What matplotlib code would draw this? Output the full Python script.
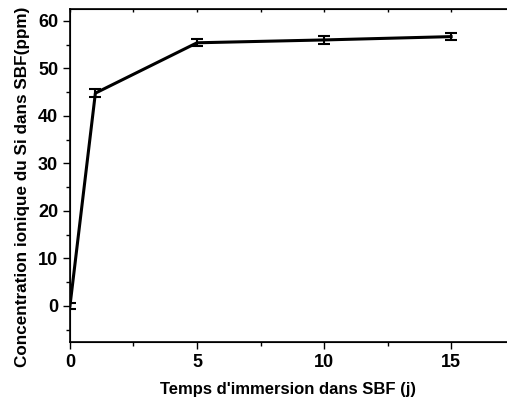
import matplotlib
matplotlib.use("Agg")
import matplotlib.pyplot as plt
from matplotlib.ticker import MultipleLocator

plt.rcParams['font.family'] = ['Liberation Sans', 'DejaVu Sans']
plt.rcParams['font.weight'] = 'bold'

days = [0, 1, 5, 10, 15]
si_ppm = [0.0, 44.8, 55.4, 56.0, 56.7]
si_err = [0.6, 0.8, 0.7, 0.8, 0.8]
x_ticks = [0, 5, 10, 15]
y_ticks = [0, 10, 20, 30, 40, 50, 60]

fig = plt.figure(figsize=(5.07, 4.05), dpi=100)
ax = fig.add_axes([0.138, 0.1556, 0.862, 0.822])

ax.errorbar(days, si_ppm, yerr=si_err, color='black', lw=2.2,
            capsize=4, capthick=1.5, elinewidth=1.5)

ax.set_xlim(0, 17.2)
ax.set_ylim(-7.6, 62.5)
ax.set_xticks(x_ticks)
ax.set_yticks(y_ticks)
ax.xaxis.set_minor_locator(MultipleLocator(2.5))
ax.yaxis.set_minor_locator(MultipleLocator(5))
ax.tick_params(which='major', direction='out', length=5, width=1, labelsize=13)
ax.tick_params(which='minor', direction='out', length=3, width=1)
for lab in ax.get_xticklabels() + ax.get_yticklabels():
    lab.set_fontweight('bold')

ax.spines['right'].set_visible(False)
for s in ['left', 'bottom', 'top']:
    ax.spines[s].set_linewidth(1.2)

top = ax.twiny()
top.set_xlim(ax.get_xlim())
top.set_xticks(x_ticks)
top.xaxis.set_minor_locator(MultipleLocator(2.5))
top.tick_params(which='both', direction='in', length=2, width=1, labeltop=False)
top.spines['right'].set_visible(False)

ax.set_xlabel("Temps d'immersion dans SBF (j)", fontsize=12, fontweight='bold', labelpad=8)
ax.set_ylabel("Concentration ionique du Si dans SBF(ppm)", fontsize=12.3, fontweight='bold')
ax.yaxis.set_label_coords(-0.092, 0.465)

fig.savefig("out.png", dpi=100)
